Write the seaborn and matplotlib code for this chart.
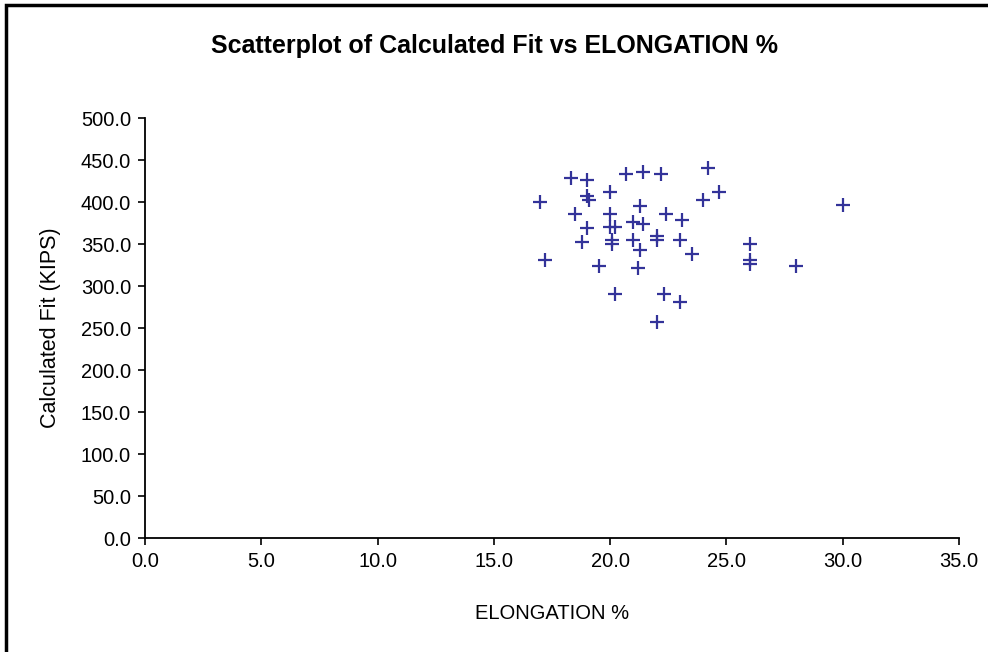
import numpy as np
import pandas as pd
import seaborn as sb
import matplotlib.pyplot as plt
from matplotlib.patches import Rectangle

# values
elongation = [18.3, 19.0, 20.7, 21.4, 22.2, 24.2, 20.0, 24.7, 17.0, 19.0,
              19.1, 21.3, 24.0, 18.5, 20.0, 22.4, 23.1, 21.0, 21.4, 20.0,
              20.2, 19.0, 18.8, 20.1, 20.1, 21.0, 22.0, 22.0, 23.0, 21.3,
              23.5, 17.2, 19.5, 21.2, 20.2, 22.3, 23.0, 22.0, 30.0, 26.0,
              26.0, 26.0, 28.0]
calc_fit = [428.0, 426.0, 433.0, 435.5, 433.0, 440.0, 411.5, 411.5, 400.0, 407.5,
            402.0, 395.0, 402.0, 385.5, 385.5, 385.5, 378.0, 376.0, 373.5, 370.5,
            370.5, 369.0, 352.0, 354.5, 349.5, 354.5, 359.0, 354.5, 354.5, 342.5,
            338.0, 330.5, 323.5, 321.0, 290.0, 290.0, 280.5, 257.0, 397.0, 350.0,
            330.5, 326.0, 323.5]

df = pd.DataFrame({'ELONGATION %': elongation, 'Calculated Fit (KIPS)': calc_fit})

sb.set_style('white', {'text.color': 'black', 'axes.labelcolor': 'black',
                       'xtick.color': 'black', 'ytick.color': 'black'})
plt.rcParams['font.family'] = ['Liberation Sans', 'DejaVu Sans']

fig = plt.figure(figsize=(9.88, 6.52), dpi=100)
ax = fig.add_axes([145 / 988, 1 - 538 / 652, (959 - 145) / 988, (538 - 118) / 652])

sb.scatterplot(data=df, x='ELONGATION %', y='Calculated Fit (KIPS)', ax=ax,
               marker='+', s=110, color='#333399', linewidth=1.6)

ax.set_xlim(0, 35)
ax.set_ylim(0, 500)
ax.set_xticks(np.arange(0, 35.1, 5))
ax.set_yticks(np.arange(0, 500.1, 50))
ax.set_xticklabels(['%.1f' % v for v in np.arange(0, 35.1, 5)])
ax.set_yticklabels(['%.1f' % v for v in np.arange(0, 500.1, 50)])
ax.tick_params(axis='both', direction='out', length=5, width=1.2, labelsize=14.5,
               colors='black', bottom=True, left=True, pad=5)

for side in ['top', 'right']:
    ax.spines[side].set_visible(False)
for side in ['left', 'bottom']:
    ax.spines[side].set_color('black')
    ax.spines[side].set_linewidth(1.3)

ax.set_xlabel('ELONGATION %', fontsize=14.5, labelpad=24, color='black')
ax.set_ylabel('Calculated Fit (KIPS)', fontsize=15.5, labelpad=14, color='black')

fig.text(0.5, 1 - 46 / 652, 'Scatterplot of Calculated Fit vs ELONGATION %',
         ha='center', va='center', fontsize=18, fontweight='bold', color='black')

# chart frame like the spreadsheet chart area
fig.patches.append(Rectangle((6 / 988, -0.05), 1.2, 1 - 5 / 652 + 0.05,
                             transform=fig.transFigure, fill=False,
                             edgecolor='black', linewidth=2.5))

fig.savefig('out.png', dpi=100)
